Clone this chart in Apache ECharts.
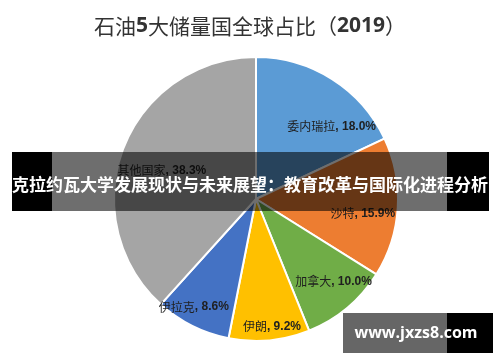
<!DOCTYPE html>
<html><head><meta charset="utf-8">
<script src="https://cdn.jsdelivr.net/npm/echarts@6/dist/echarts.min.js"></script>
<style>html,body{margin:0;padding:0;background:#fff}#c{width:500px;height:362px}</style>
</head><body><div id="c"></div>
<script>
const titleParts = ['石油', '5', '大储量国全球占比（', '2019', '）'];
const categories = ['委内瑞拉', '沙特', '加拿大', '伊朗', '伊拉克', '其他国家'];
const shares = [18.0, 15.9, 10.0, 9.2, 8.6, 38.3];
const colors = ['#5B9BD5', '#ED7D31', '#70AD47', '#FFC000', '#4472C4', '#A5A5A5'];
const labelOffsets = [[36, -10], [33, 10], [30, 26], [9, 54], [-29, 42], [-25, -2]];
const bannerText = '克拉约瓦大学发展现状与未来展望：教育改革与国际化进程分析';
const watermarkText = 'www.jxzs8.com';

const chart = echarts.init(document.getElementById('c'), null, {renderer: 'canvas'});
chart.setOption({
  animation: false,
  backgroundColor: '#fff',
  title: {
    text: '{t|' + titleParts[0] + '}{n|' + titleParts[1] + '}{t|' + titleParts[2] + '}{n|' + titleParts[3] + '}{t|' + titleParts[4] + '}',
    left: 'center', top: 11,
    textStyle: {
      rich: {
        t: {fontFamily: 'Noto Sans CJK SC', fontSize: 21, fontWeight: 'normal', color: '#333'},
        n: {fontFamily: 'Open Sans', fontSize: 21, fontWeight: 'bold', color: '#333'}
      }
    }
  },
  series: [{
    type: 'pie',
    center: [256, 199],
    radius: 142,
    startAngle: 90,
    clockwise: true,
    data: categories.map((n, i) => ({name: n, value: shares[i], itemStyle: {color: colors[i]}})),
    itemStyle: {borderColor: '#fff', borderWidth: 2},
    label: {
      show: true, position: 'inside',
      formatter: p => '{a|' + p.name + '}{b|, ' + p.value.toFixed(1) + '%}',
      rich: {
        a: {fontFamily: 'Noto Sans CJK SC', fontSize: 12, color: '#1f1f1f'},
        b: {fontFamily: 'Liberation Sans', fontSize: 12, fontWeight: 'bold', color: '#1f1f1f'}
      }
    },
    labelLine: {show: false},
    labelLayout: p => ({dx: labelOffsets[p.dataIndex][0], dy: labelOffsets[p.dataIndex][1]}),
    emphasis: {disabled: true}
  }],
  graphic: [
    {type: 'rect', z: 100, shape: {x: 12, y: 152, width: 40, height: 59}, style: {fill: '#000'}},
    {type: 'rect', z: 100, shape: {x: 52, y: 152, width: 395, height: 59}, style: {fill: 'rgba(0,0,0,0.57)'}},
    {type: 'rect', z: 100, shape: {x: 447, y: 152, width: 42, height: 59}, style: {fill: '#000'}},
    {type: 'text', z: 101, x: 250, y: 185, style: {text: bannerText, fill: '#fff', font: 'bold 17px "Noto Sans CJK SC"', textAlign: 'center', textVerticalAlign: 'middle'}},
    {type: 'rect', z: 100, shape: {x: 343, y: 313, width: 104, height: 40}, style: {fill: 'rgba(0,0,0,0.6)'}},
    {type: 'rect', z: 100, shape: {x: 447, y: 313, width: 46, height: 40}, style: {fill: '#000'}},
    {type: 'text', z: 101, x: 416, y: 333, style: {text: watermarkText, fill: '#fff', font: 'bold 16px "Open Sans"', textAlign: 'center', textVerticalAlign: 'middle'}}
  ]
});
</script></body></html>
